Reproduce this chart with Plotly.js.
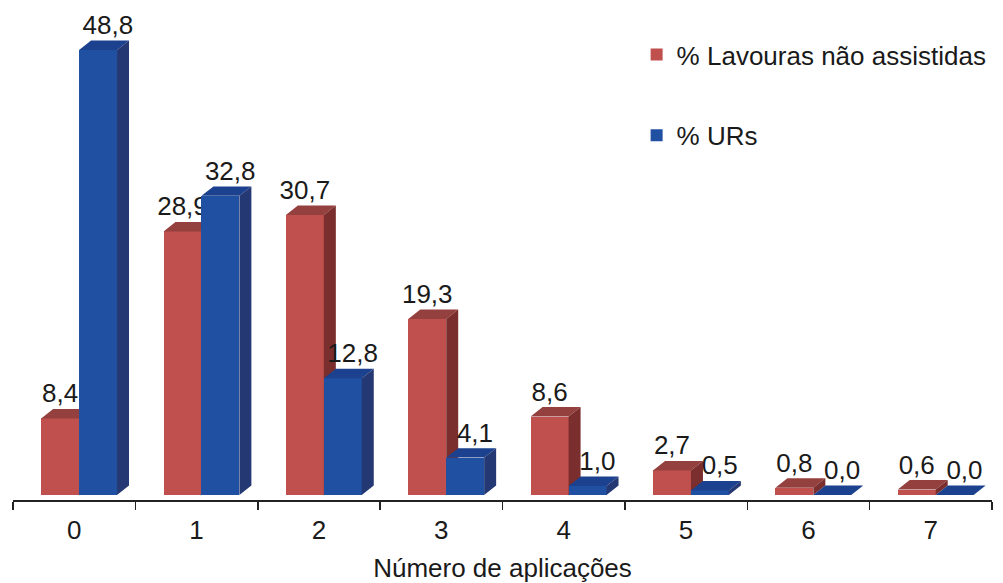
<!DOCTYPE html>
<html>
<head>
<meta charset="utf-8">
<script src="https://cdn.plot.ly/plotly-3.0.1.min.js"></script>
<style>html,body{margin:0;padding:0;background:#fff;}#chart{width:1003px;height:583px;}</style>
</head>
<body>
<div id="chart"></div>
<script>
// ---- data ----
const categories = [0, 1, 2, 3, 4, 5, 6, 7];
const tickLabels = ['0', '1', '2', '3', '4', '5', '6', '7'];
const seriesNames = ['% Lavouras não assistidas', '% URs'];
const lavouras = [8.4, 28.9, 30.7, 19.3, 8.6, 2.7, 0.8, 0.6];
const urs = [48.8, 32.8, 12.8, 4.1, 1.0, 0.5, 0.0, 0.0];
const xTitle = 'Número de aplicações';

// ---- styling / geometry (not data) ----
const FONT = 'Liberation Sans, Arial, sans-serif';
const FS = 26;
const BAR_W = 0.31;
const OFF = [-0.27, 0.04];       // left edge offsets of front faces
const DX = 0.098, DY = 1.04;     // pseudo-3D depth in axis units
const LABEL_SHIFT = [0.0, 0.08];
const COLORS = [
  {front: '#C0504D', top: '#94403E', side: '#7A2E2D'},
  {front: '#1F50A2', top: '#1C418E', side: '#243873'}
];
const fmt = v => v.toFixed(1).replace('.', ',');

function faces(vals, off) {
  const tx = [], ty = [], sx = [], sy = [];
  categories.forEach((c, i) => {
    const L = c + off, R = L + BAR_W, v = vals[i];
    tx.push(L, L + DX, R + DX, R, L, null);
    ty.push(v, v + DY, v + DY, v, v, null);
    sx.push(R, R + DX, R + DX, R, R, null);
    sy.push(0, DY, v + DY, v, 0, null);
  });
  return {tx, ty, sx, sy};
}

function seriesTraces(vals, k, xa, ya) {
  const f = faces(vals, OFF[k]);
  const col = COLORS[k];
  return [
    {type: 'bar', x: categories, y: vals, width: BAR_W, offset: OFF[k],
     name: seriesNames[k], legendgroup: 'g' + k, xaxis: xa, yaxis: ya,
     marker: {color: col.front, line: {width: 0}}, hoverinfo: 'x+y'},
    {type: 'scatter', mode: 'lines', x: f.tx, y: f.ty, fill: 'toself', fillcolor: col.top,
     line: {width: 0, color: col.top}, showlegend: false, hoverinfo: 'skip', xaxis: xa, yaxis: ya},
    {type: 'scatter', mode: 'lines', x: f.sx, y: f.sy, fill: 'toself', fillcolor: col.side,
     line: {width: 0, color: col.side}, showlegend: false, hoverinfo: 'skip', xaxis: xa, yaxis: ya},
    {type: 'scatter', mode: 'text',
     x: categories.map(c => c + OFF[k] + BAR_W / 2 + LABEL_SHIFT[k]),
     y: vals.map(v => v + DY), text: vals.map(fmt), textposition: 'top center',
     textfont: {family: FONT, size: FS, color: '#1a1a1a'}, cliponaxis: false,
     showlegend: false, hoverinfo: 'skip', xaxis: xa, yaxis: ya}
  ];
}

const traces = [].concat(
  seriesTraces(lavouras, 0, 'x', 'y'),
  seriesTraces(urs, 1, 'x2', 'y2')
);

const XR = [-0.5, 7.5];
const YR = [-0.548, 53.18];
const boundaries = categories.map(c => c - 0.5).concat([categories[categories.length - 1] + 0.5]);

const layout = {
  width: 1003, height: 583,
  margin: {l: 13, r: 11, t: 10, b: 83},
  paper_bgcolor: '#ffffff', plot_bgcolor: 'rgba(0,0,0,0)',
  font: {family: FONT, size: FS, color: '#1a1a1a'},
  showlegend: true,
  legend: {x: 0.637, y: 0.957, xanchor: 'left', yanchor: 'top',
           traceorder: 'grouped', tracegroupgap: 44,
           font: {family: FONT, size: FS, color: '#1a1a1a'}, bgcolor: 'rgba(0,0,0,0)'},
  bargap: 0,
  xaxis: {range: XR, showline: true, linecolor: '#222', linewidth: 2,
          tickmode: 'array', tickvals: boundaries, ticks: 'outside', ticklen: 8,
          tickwidth: 1.5, tickcolor: '#222', showticklabels: false,
          showgrid: false, zeroline: false, fixedrange: true},
  yaxis: {range: YR, visible: false, fixedrange: true},
  xaxis2: {range: XR, overlaying: 'x', anchor: 'y2', side: 'bottom',
           tickmode: 'array', tickvals: categories, ticktext: tickLabels,
           ticks: '', showline: false, showgrid: false, zeroline: false,
           ticklabelstandoff: 12,
           tickfont: {family: FONT, size: FS, color: '#1a1a1a'},
           title: {text: xTitle, font: {family: FONT, size: FS, color: '#1a1a1a'}, standoff: 15},
           fixedrange: true},
  yaxis2: {range: YR, overlaying: 'y', visible: false, fixedrange: true}
};

Plotly.newPlot('chart', traces, layout, {displayModeBar: false, staticPlot: true});
</script>
</body>
</html>
